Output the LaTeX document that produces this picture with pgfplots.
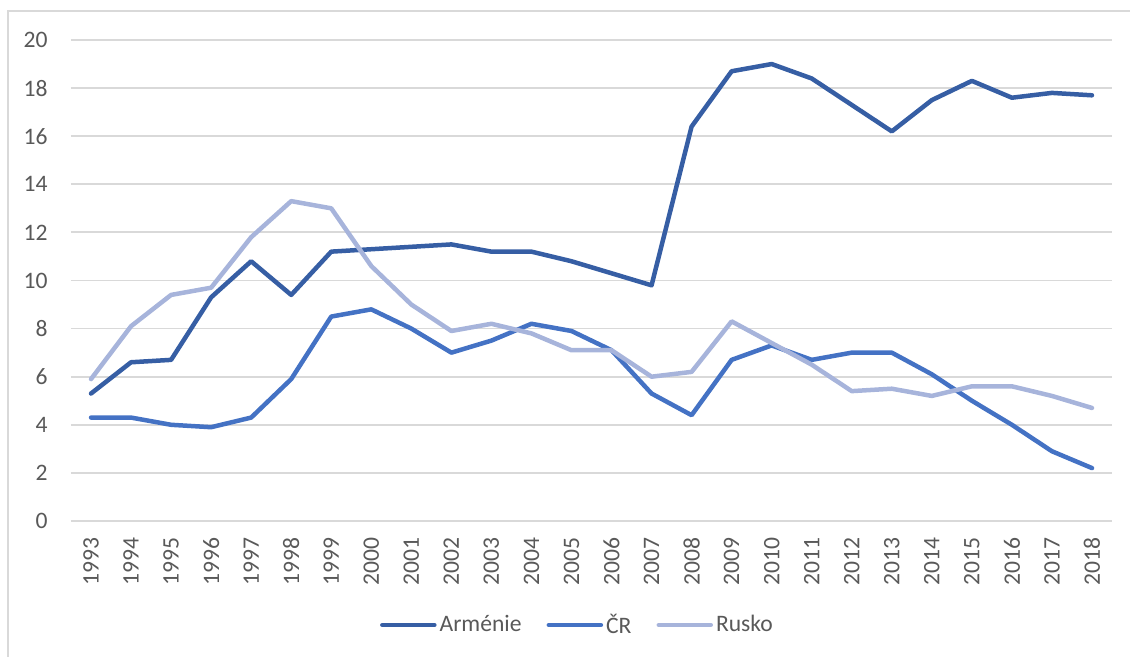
\documentclass[border=0pt]{standalone}
\usepackage{fontspec}
\setmainfont{Carlito}
\usepackage{pgfplots}
\pgfplotsset{compat=1.18}
\definecolor{arm}{RGB}{54,94,164}
\definecolor{cr}{RGB}{68,114,196}
\definecolor{ru}{RGB}{167,180,219}
\definecolor{gridc}{RGB}{217,217,217}
\definecolor{txt}{RGB}{89,89,89}
\pgfplotstableread{
x arm cr ru
0 5.3 4.3 5.9
1 6.6 4.3 8.1
2 6.7 4.0 9.4
3 9.3 3.9 9.7
4 10.8 4.3 11.8
5 9.4 5.9 13.3
6 11.2 8.5 13.0
7 11.3 8.8 10.6
8 11.4 8.0 9.0
9 11.5 7.0 7.9
10 11.2 7.5 8.2
11 11.2 8.2 7.8
12 10.8 7.9 7.1
13 10.3 7.1 7.1
14 9.8 5.3 6.0
15 16.4 4.4 6.2
16 18.7 6.7 8.3
17 19.0 7.3 7.4
18 18.4 6.7 6.5
19 17.3 7.0 5.4
20 16.2 7.0 5.5
21 17.5 6.1 5.2
22 18.3 5.0 5.6
23 17.6 4.0 5.6
24 17.8 2.9 5.2
25 17.7 2.2 4.7
}\data
\begin{document}
\begin{tikzpicture}
\begin{axis}[
  at={(0,0)}, anchor=south west, scale only axis,
  width=520.5pt, height=240.5pt,
  xmin=-0.5, xmax=25.5, ymin=0, ymax=20,
  xtick={0,...,25},
  xticklabels={1993,1994,1995,1996,1997,1998,1999,2000,2001,2002,2003,2004,2005,2006,2007,2008,2009,2010,2011,2012,2013,2014,2015,2016,2017,2018},
  ytick={0,2,...,20},
  /pgf/number format/assume math mode=true,
  ymajorgrids, grid style={gridc, line width=0.9pt},
  axis line style={draw=none},
  tick style={draw=none},
  ticklabel style={font=\fontsize{11.8}{13}\selectfont, text=txt, inner sep=0pt},
  xticklabel style={rotate=90, anchor=east},
  yticklabel style={anchor=east},
  xticklabel shift=8pt,
  yticklabel shift=11.5pt,
  legend style={at={(0.487,0)}, anchor=center, yshift=-52pt, draw=none, fill=none,
    font=\fontsize{11.8}{13}\selectfont, text=txt, legend columns=-1,
    /tikz/every even column/.append style={column sep=11pt},
    nodes={inner sep=1.5pt}},
  legend image code/.code={\draw[#1, line width=2.25pt, line cap=round] (0pt,0pt) -- (26pt,0pt);},
  every axis plot/.append style={line width=2.25pt, line cap=round, line join=round},
]
\addplot[arm] table[x=x, y=arm] {\data};
\addplot[cr] table[x=x, y=cr] {\data};
\addplot[ru] table[x=x, y=ru] {\data};
\legend{Arménie, ČR, Rusko}
\end{axis}
\draw[gridc, line width=0.9pt] (-31.5pt,-75pt) -- (-31.5pt,255pt) -- (540pt,255pt);
\pgfresetboundingbox
\useasboundingbox (-35.5pt,-68pt) rectangle (529.5pt,260.5pt);
\end{tikzpicture}
\end{document}
